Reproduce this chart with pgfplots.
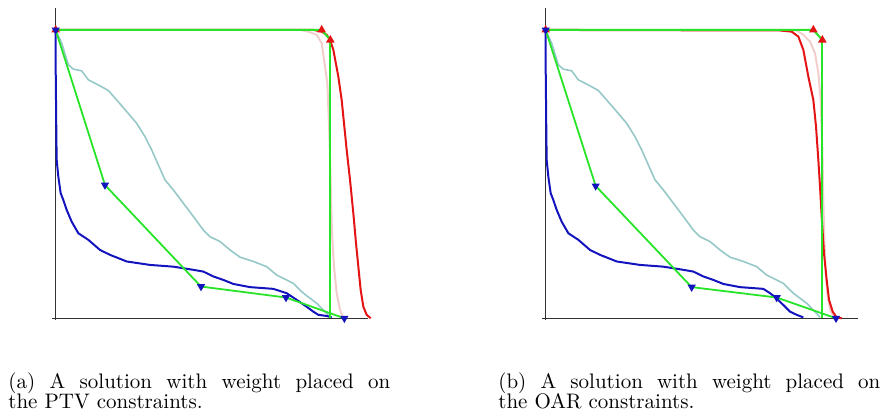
\documentclass[border=0pt]{standalone}
\usepackage{pgfplots}
\pgfplotsset{compat=1.18}
\definecolor{cgreen}{RGB}{40,228,40}
\definecolor{cred}{RGB}{228,20,20}
\definecolor{cblue}{RGB}{20,20,190}
\definecolor{cteal}{RGB}{150,200,200}
\definecolor{cpink}{RGB}{242,205,205}

\pgfplotsset{
  dvh/.style={
    scale only axis, width=158pt, height=156pt, anchor=south west,
    xmin=-1.1, xmax=93.7, ymin=-0.6, ymax=107.6, enlargelimits=false,
    axis lines=middle, axis line style={-, draw=black!80, line width=0.45pt},
    ticks=none, clip=false},
  oar/.style={cgreen, line width=0.9pt, mark=triangle*, mark size=1.5pt,
    mark options={rotate=180, fill=cblue, draw=cblue}},
  ptv/.style={cgreen, line width=1pt, mark=triangle*, mark size=1.5pt,
    mark options={fill=cred, draw=cred}},
}

\begin{document}
\begin{tikzpicture}
\path[use as bounding box] (0,0) rectangle (442pt,-206.5pt);

% ---------- (a) weight on PTV ----------
\begin{axis}[dvh, at={(26pt,-160pt)}]
\addplot[cpink, line width=1pt] coordinates {(0,100)(73.3,100)(75.8,99.4)(78.3,98.3)(79.8,95.4)(80.8,87.3)(81.5,81.5)(82.1,64.2)(82.5,46.8)(82.9,29.5)(83.5,17.9)(84.3,8.7)(85.3,2.9)(86.3,0)};
\addplot[cteal, line width=0.8pt] coordinates {(0,100)(1.8,95.4)(3.8,87.9)(5.3,86.4)(7.8,85.8)(9.8,82.7)(13.3,80.6)(15.8,79.0)(18.3,75.7)(21.3,71.7)(24.3,67.6)(26.8,63.0)(28.8,58.4)(30.8,53.2)(32.8,48.0)(35.3,44.5)(38.3,39.9)(41.3,35.3)(44.3,30.6)(46.3,28.3)(49.3,26.6)(52.3,23.7)(55.3,21.2)(59.3,19.7)(63.3,17.9)(66.3,15.0)(71.3,12.1)(74.3,8.7)(78.3,5.2)(81.3,1.7)(82.3,0.3)};
\addplot[cblue, line width=1pt] coordinates {(0,100)(0,87.3)(0.1,75.7)(0.2,64.2)(0.3,54.9)(0.8,49.1)(1.5,43.4)(2.3,41.0)(3.3,37.6)(4.8,33.5)(6.8,29.5)(9.8,27.2)(13.3,23.7)(16.3,22.0)(21.3,19.7)(28.3,18.5)(35.3,17.9)(41.3,16.8)(44.3,16.2)(47.3,14.5)(50.3,13.3)(53.3,11.9)(58.3,10.8)(65.3,10.2)(69.3,8.7)(72.3,6.4)(75.3,4.0)(77.3,2.3)(78.8,1.2)(81.3,0.8)(82.8,0.3)};
\addplot[cred, line width=1pt] coordinates {(0,100)(77.3,100)(79.8,99.4)(81.3,98.3)(82.3,96.5)(83.3,93.1)(84.8,83.8)(85.8,75.7)(86.5,67.6)(87.3,58.4)(88.3,48.0)(89.3,36.4)(90.1,26.0)(90.8,17.9)(91.5,9.8)(92.3,4.0)(93.3,1.2)(94.5,0)};
\addplot[ptv] coordinates {(0,100)(79.8,100)(82.4,96.5)};
\addplot[cgreen, line width=1pt] coordinates {(82.4,96.5)(82.4,0.2)};
\addplot[oar] coordinates {(0,100)(14.8,46.2)(43.6,11.0)(69.1,7.2)(86.6,0)};
\end{axis}

% ---------- (b) weight on OAR ----------
\begin{axis}[dvh, at={(271pt,-160pt)}]
\addplot[cpink, line width=1pt] coordinates {(0,100)(72.3,100)(75.3,99.8)(77.3,98.3)(79.3,96.0)(80.8,91.9)(81.8,85.0)(82.5,75.7)(83.0,58.4)(83.3,41.0)(83.6,27.2)(84.0,15.6)(84.6,7.5)(85.5,2.3)(86.8,0.3)(88.3,0)};
\addplot[cteal, line width=0.8pt] coordinates {(0,100)(1.8,95.4)(3.8,87.9)(5.3,86.4)(7.8,85.8)(9.8,82.7)(13.3,80.6)(15.8,79.0)(18.3,75.7)(21.3,71.7)(24.3,67.6)(26.8,63.0)(28.8,58.4)(30.8,53.2)(32.8,48.0)(35.3,44.5)(38.3,39.9)(41.3,35.3)(44.3,30.6)(46.3,28.3)(49.3,26.6)(52.3,23.7)(55.3,21.2)(59.3,19.7)(63.3,17.9)(66.3,15.0)(71.3,12.1)(74.3,8.7)(78.3,5.2)(81.3,1.7)(82.3,0.3)};
\addplot[cblue, line width=1pt] coordinates {(0,100)(0,87.3)(0.1,75.7)(0.2,64.2)(0.3,54.9)(0.8,49.1)(1.5,43.4)(2.3,41.0)(3.3,37.6)(4.8,33.5)(6.8,29.5)(9.8,27.2)(13.3,23.7)(16.3,22.0)(21.3,19.7)(28.3,18.5)(35.3,17.9)(41.3,16.8)(44.3,16.2)(47.3,14.5)(50.3,13.3)(53.3,11.9)(58.3,10.8)(65.3,10.2)(67.3,8.7)(69.3,6.9)(71.3,4.6)(73.3,2.3)(75.3,1.2)(77.3,0.3)};
\addplot[cred, line width=1pt] coordinates {(0,100)(70.3,99.8)(73.8,99.4)(75.8,97.7)(77.3,93.1)(78.8,83.8)(80.3,75.7)(81.1,66.5)(81.8,54.9)(82.3,45.7)(82.8,35.3)(83.5,22.5)(84.3,13.3)(85.0,6.4)(86.1,2.3)(87.3,0.3)(88.8,0)};
\addplot[ptv] coordinates {(0,100)(80.3,100)(83.0,96.5)};
\addplot[cgreen, line width=1pt] coordinates {(83.0,96.5)(83.0,0.2)};
\addplot[oar] coordinates {(0,100)(15.0,45.9)(43.8,10.8)(69.3,7.2)(87.1,0)};
\end{axis}

% captions
\begin{scope}[every node/.style={inner sep=0pt, anchor=base west, font=\fontsize{10.5pt}{10pt}\selectfont}]
\node at (4pt,-194pt) {\makebox[191pt][s]{(a) A solution with weight placed on}};
\node at (4pt,-204pt) {the PTV constraints.};
\node at (249pt,-194pt) {\makebox[191pt][s]{(b) A solution with weight placed on}};
\node at (249pt,-204pt) {the OAR constraints.};
\end{scope}
\end{tikzpicture}
\end{document}
